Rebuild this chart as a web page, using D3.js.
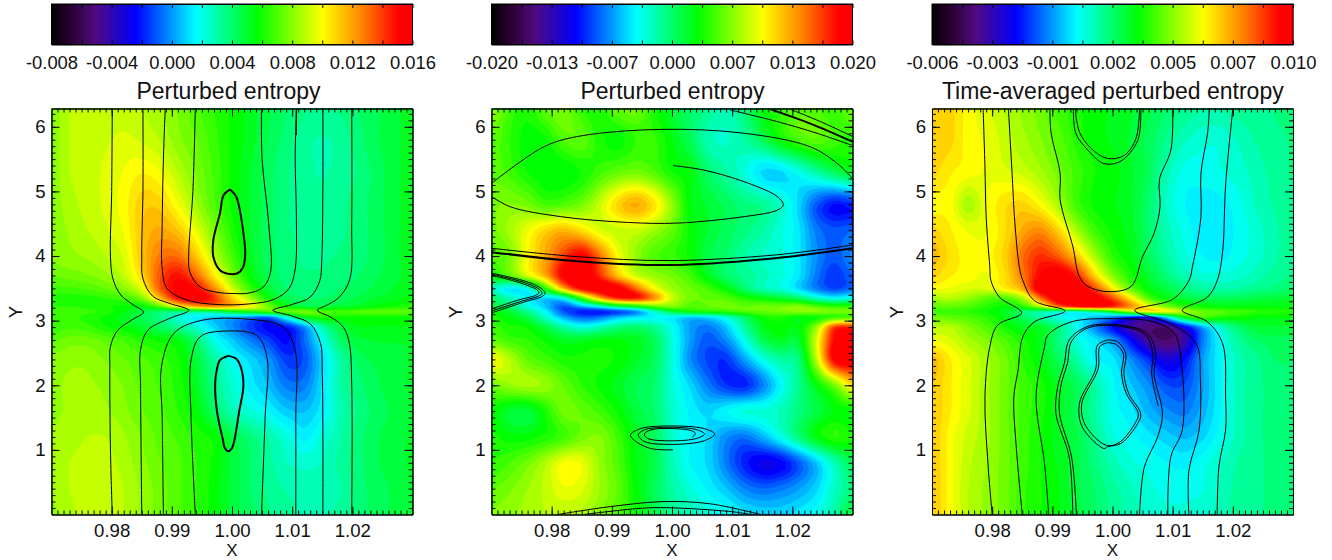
<!DOCTYPE html>
<html>
<head>
<meta charset="utf-8">
<script src="https://d3js.org/d3.v7.min.js"></script>
<style>
  body { margin: 0; background: #fff; }
  text { font-family: "Liberation Sans", Arial, sans-serif; fill: #111; }
</style>
</head>
<body>
<svg id="chart" width="1332" height="560"></svg>
<script>
// grid columns and rows of all three maps
const xCols = [0.970,0.973,0.976,0.979,0.982,0.985,0.988,0.991,0.994,0.997,1.000,1.003,1.006,1.009,1.012,1.015,1.018,1.021,1.024,1.027,1.030];
const yRows = [6.28,5.8,5.3,4.8,4.4,4.0,3.7,3.5,3.35,3.22,3.14,3.05,2.9,2.7,2.4,2.0,1.6,1.2,0.8,0.4,0.0];

// perturbed entropy, in units of 1e-4, one line per y row
const entropyA = [
[80,88,90,90,90,88,84,78,70,64,58,52,46,40,36,34,36,40,44,48,52],
[80,88,90,92,94,92,88,80,74,66,58,52,44,38,32,30,32,38,44,48,52],
[80,88,90,94,98,102,98,88,78,68,58,50,42,36,32,30,32,36,42,48,52],
[80,86,90,94,100,110,110,98,84,70,58,50,42,36,32,32,34,38,42,48,52],
[80,84,88,92,98,112,118,112,96,78,62,50,42,36,34,32,34,38,42,48,52],
[80,82,84,88,94,112,128,130,112,88,68,52,42,38,34,34,36,38,42,48,52],
[74,76,78,82,90,108,135,148,132,104,78,56,44,38,36,36,38,40,44,48,52],
[68,68,70,74,80,96,134,154,150,124,92,66,48,40,38,38,40,42,46,50,54],
[62,62,62,64,68,78,114,150,158,142,110,84,58,44,40,40,42,46,50,52,56],
[64,64,62,60,58,56,72,100,118,125,115,100,76,56,46,46,48,52,56,60,62],
[68,68,66,62,56,46,40,36,36,40,52,60,68,72,76,70,68,70,72,72,70],
[66,66,62,58,52,44,36,24,14,8,4,-4,-10,20,50,60,58,58,58,58,58],
[66,68,66,60,56,50,42,34,24,10,-2,-15,-24,-22,-2,30,46,54,54,54,54],
[72,76,76,72,68,62,58,55,40,20,8,-4,-14,-24,-8,18,40,48,50,50,50],
[80,82,82,78,74,70,66,60,48,32,18,10,0,-15,-12,10,30,42,46,48,50],
[82,84,84,82,78,72,68,62,52,36,24,14,6,-5,-5,12,30,38,44,48,50],
[82,84,86,84,80,74,70,64,56,42,28,22,16,8,6,14,28,36,42,46,50],
[84,86,88,88,84,78,72,68,62,58,46,38,30,22,14,22,30,38,44,48,50],
[84,88,90,90,86,80,74,70,64,58,48,40,32,26,24,26,32,38,44,48,50],
[84,88,92,92,88,82,76,70,64,57,48,40,34,30,28,28,30,38,42,46,50],
[82,86,92,92,88,82,76,70,64,57,48,42,36,32,30,30,32,38,42,46,50]];

const entropyB = [
[70,45,35,55,65,40,35,55,60,35,15,0,-10,-20,-5,25,40,55,50,40,60],
[55,40,28,30,50,55,35,28,40,42,25,5,-20,-25,-15,5,30,48,55,45,35],
[55,45,32,25,25,32,45,55,60,50,32,25,0,-15,-30,-50,-50,-35,-15,5,20],
[62,65,60,45,50,60,85,115,130,110,70,25,15,5,-5,-10,-25,-50,-85,-105,-100],
[60,75,95,115,125,110,90,85,85,72,55,30,15,5,-5,-15,-30,-45,-75,-85,-80],
[50,60,100,130,165,190,150,100,70,50,42,30,10,0,-15,-25,-30,-45,-70,-85,-70],
[30,55,90,130,190,200,170,120,85,70,60,45,20,0,-10,-20,-30,-45,-75,-95,-80],
[-20,-45,-30,40,130,190,200,195,150,100,72,58,45,25,0,-20,-30,-50,-75,-90,-80],
[0,-20,-40,-50,-30,50,130,175,180,140,85,60,55,50,35,25,15,0,-25,-40,-30],
[15,-5,-30,-55,-85,-60,-30,5,25,55,65,50,55,60,55,60,60,65,50,40,40],
[30,15,-10,-40,-85,-100,-100,-90,-70,-25,10,30,35,40,50,55,60,65,65,60,60],
[35,25,10,-25,-60,-80,-75,-55,-45,-40,-42,-55,-50,-30,0,30,35,25,30,45,50],
[45,35,30,10,-15,-30,-20,-5,0,-10,-35,-65,-75,-55,-15,20,30,25,70,165,175],
[55,45,40,30,20,20,25,25,20,5,-30,-65,-85,-70,-35,5,20,15,90,185,195],
[100,80,55,45,35,35,35,30,18,5,-30,-70,-90,-95,-65,-35,-15,-5,80,190,200],
[60,70,75,70,55,40,30,20,8,0,-30,-50,-75,-95,-100,-75,-40,-10,25,60,110],
[30,15,12,35,60,55,45,30,12,0,-25,-42,-50,-40,-30,-30,-22,-5,10,25,25],
[35,28,28,35,45,60,65,45,22,5,-25,-40,-50,-70,-78,-60,-35,-5,25,40,35],
[40,48,60,78,98,95,70,50,25,10,-20,-40,-50,-75,-100,-115,-110,-85,-55,-20,5],
[55,62,72,82,95,90,72,55,28,5,-15,-30,-42,-55,-72,-80,-75,-65,-50,-25,-5],
[65,70,75,80,80,78,65,50,30,10,-10,-20,-30,-35,-45,-50,-50,-45,-35,-15,15]];

const entropyC = [
[68,66,60,56,52,48,44,38,34,31,29,27,24,20,16,14,14,15,16,17,18],
[68,66,60,58,54,50,46,41,35,31,29,26,22,16,11,8,8,11,14,16,17],
[66,62,60,58,56,54,50,44,38,33,31,27,22,12,6,6,7,9,12,15,17],
[60,60,50,58,64,66,60,50,38,32,30,27,20,10,4,2,3,6,11,14,16],
[66,62,58,58,64,72,76,66,50,38,32,28,20,12,6,2,2,5,9,13,16],
[70,64,60,60,66,80,88,82,68,50,36,30,22,14,8,4,3,6,9,13,16],
[66,62,60,58,64,78,94,100,90,66,46,34,26,18,12,8,8,9,12,15,17],
[60,58,56,56,62,72,100,100,100,85,62,42,30,24,18,14,13,14,16,18,20],
[50,52,48,42,40,50,80,100,100,98,84,62,40,30,25,22,22,22,24,25,26],
[42,42,40,36,32,36,52,80,92,96,90,76,58,44,36,32,30,30,30,30,30],
[38,38,36,33,28,20,15,10,10,16,30,50,60,58,50,42,40,38,36,35,34],
[44,42,40,36,30,22,14,8,4,-2,-10,-22,-25,0,28,38,33,32,30,30,29],
[52,52,46,40,34,28,28,18,6,-8,-22,-35,-42,-42,-25,-5,10,20,26,26,26],
[58,56,50,46,40,34,28,18,8,2,-6,-22,-38,-44,-35,-10,5,15,20,22,22],
[70,62,56,50,44,36,30,22,14,4,2,-8,-18,-28,-22,-6,4,12,16,20,20],
[68,62,56,50,44,38,34,28,22,14,5,-2,-8,-15,-15,-6,4,12,16,18,20],
[68,62,56,50,44,38,34,28,22,14,6,2,-4,-8,-10,-4,4,12,16,18,20],
[68,60,54,50,44,38,33,28,24,16,8,5,2,-1,-3,0,6,12,16,18,20],
[68,60,53,49,44,38,33,29,24,18,12,8,6,4,3,6,10,14,16,18,18],
[68,60,52,48,44,37,33,30,24,20,15,11,8,6,6,7,11,15,16,18,18],
[68,60,52,48,44,37,33,30,25,20,16,12,9,8,8,9,12,15,16,18,18]];

// field lines, [x, y]
const linesA = [
[[.9801,6.28],[.98,5],[.9798,4],[.9802,3.65],[.9815,3.4],[.9835,3.25],[.9853,3.13],[.9835,3.02],[.981,2.85],[.9798,2.6],[.9797,2.3],[.9798,1],[.9801,0]],
[[.9852,6.28],[.9852,5],[.985,4],[.9852,3.65],[.9868,3.38],[.9895,3.27],[.9928,3.16],[.9895,3.03],[.986,2.85],[.9848,2.55],[.9848,2],[.985,0]],
[[.9889,6.28],[.9886,5.5],[.9884,4.5],[.9884,3.8],[.9892,3.5],[.9925,3.32],[.9975,3.25],[1.003,3.26],[1.007,3.33],[1.0095,3.5],[1.0105,3.8],[1.0107,4.6],[1.0105,5.5],[1.0107,6.28]],
[[.9939,6.28],[.9935,5],[.9928,4],[.993,3.75],[.9947,3.52],[.9975,3.44],[1,3.42],[1.003,3.43],[1.0052,3.52],[1.0064,3.75],[1.0061,4.5],[1.005,5.5],[1.0049,6.28]],
[[1.0151,6.28],[1.0151,5],[1.0149,3.9],[1.0146,3.62],[1.013,3.365],[1.01,3.25],[1.0068,3.16],[1.01,3.07],[1.013,2.95],[1.0147,2.65],[1.015,2.2],[1.0151,0]],
[[1.0199,6.28],[1.0199,4.5],[1.0196,3.65],[1.0179,3.37],[1.016,3.25],[1.0142,3.16],[1.0165,3.05],[1.0185,2.9],[1.0195,2.65],[1.0199,2],[1.0199,0]],
[[.9886,0],[.9884,1.5],[.9883,2.3],[.9903,2.8],[.9947,3],[1.003,3.02],[1.0085,2.9],[1.0105,2.54],[1.0106,1.5],[1.0106,0]],
[[.9939,0],[.9932,1.5],[.9932,2.39],[.9947,2.75],[.9991,2.84],[1.0041,2.77],[1.0058,2.44],[1.0055,1.5],[1.0049,0]],
[[1.0107,6.28],[1.0107,5.87]]
];
const heavyA = [
[[.9997,5.03],[.9986,4.94],[.998,4.66],[.9969,4.25],[.9969,3.99],[.998,3.78],[.9991,3.73],[1.0008,3.73],[1.0018,3.82],[1.0022,4.04],[1.0019,4.35],[1.0014,4.66],[1.0007,4.92],[.9997,5.03]],
[[.9994,2.455],[.998,2.39],[.9975,2.25],[.9972,2.03],[.9975,1.6],[.9985,1.15],[.9988,1.03],[.9994,.98],[1,1.03],[1.0004,1.15],[1.0012,1.6],[1.0019,2],[1.0014,2.3],[1.0007,2.41],[.9994,2.455]]
];

const linesB = [
[[.97,5.125],[.9787,5.69],[.9843,5.85],[.9981,5.96],[1.012,5.9],[1.023,5.69],[1.0275,5.43],[1.03,5.2]],
[[.97,4.92],[.9732,4.76],[.9815,4.61],[.9926,4.52],[1.0009,4.51],[1.012,4.61],[1.0175,4.71],[1.0185,4.79],[1.0175,4.92],[1.012,5.15],[1.0053,5.33],[1.0002,5.4]],
[[.97,4.12],[.9843,3.99],[.9998,3.93],[1.0175,4.02],[1.03,4.17]],
[[1.0097,6.26],[1.0175,6.08],[1.0241,5.9],[1.03,5.71]],
[[1.0197,6.27],[1.0247,6.08],[1.03,5.85]],
[[.97,3.735],[.9745,3.64],[.9771,3.56],[.9785,3.48],[.9789,3.42],[.9783,3.37],[.9755,3.29],[.97,3.12]],
[[.97,3.72],[.974,3.63],[.9766,3.55],[.978,3.48],[.9784,3.42],[.9778,3.38],[.975,3.3],[.97,3.15]],
[[.97,3.7],[.9735,3.62],[.9761,3.54],[.9775,3.48],[.9779,3.43],[.9773,3.39],[.9745,3.32],[.97,3.18]],
[[1.0002,1],[.9965,1.02],[.994,1.13],[.9931,1.23],[.9948,1.33],[.9998,1.37],[1.0053,1.33],[1.0071,1.245],[1.0053,1.14],[.9998,1.085],[.9954,1.13],[.9944,1.23],[.9954,1.31],[.9998,1.35],[1.0042,1.31],[1.0054,1.245],[1.0042,1.18],[.9998,1.14],[.9959,1.18],[.9954,1.245],[.9965,1.31],[.9998,1.33],[1.0031,1.3],[1.0039,1.255],[1.0034,1.2]],
[[.981,0],[.9898,.123],[.9987,.2],[1.0064,.165],[1.0147,0]],
[[.9854,0],[.9954,.1],[1.0009,.1],[1.0103,.04],[1.013,0]]
];
const heavyB = [
[[.97,4.06],[.9843,3.92],[.9998,3.86],[1.0175,3.97],[1.03,4.12]],
[[1.0164,6.27],[1.023,6.05],[1.03,5.77]]
];

const linesC = [
[[.9785,6.28],[.9788,5.38],[.979,4.61],[.9796,3.84],[.9798,3.62],[.9812,3.365],[.9849,3.12],[.9809,2.93],[.9796,2.59],[.9788,1.82],[.9793,.79],[.98,0]],
[[.9827,6.28],[.9834,5.125],[.9837,4.61],[.9845,3.84],[.9851,3.62],[.987,3.31],[.9921,3.15],[.987,2.98],[.9851,2.75],[.9843,2.23],[.9836,1.82],[.984,1.05],[.985,0]],
[[.9896,6.28],[.9898,5.9],[.9913,5.28],[.9913,4.87],[.9934,4.15],[.9945,3.68],[.9959,3.53],[.9992,3.45],[1.0031,3.53],[1.005,3.99],[1.0069,4.35],[1.0079,4.76],[1.0078,5.18],[1.0097,5.64],[1.01,6.28]],
[[.9894,0],[.9887,.79],[.9873,1.82],[.9887,2.59],[.9892,2.77],[.9931,2.98],[1.0003,3.03],[1.0069,2.98],[1.0103,2.8],[1.0114,2.39],[1.0116,1.31],[1.0097,.895],[1.0092,0]],
[[.9934,0],[.9928,.89],[.9906,1.56],[.9909,1.98],[.992,2.34],[.9928,2.7],[.9959,2.91],[1.0014,2.93],[1.0058,2.8],[1.0072,2.49],[1.0069,2.18],[1.0083,1.56],[1.0075,1.2],[1.0053,.736],[1.0045,0]],
[[.994,0],[.9932,.89],[.9912,1.56],[.9914,1.98],[.9925,2.34],[.9932,2.68],[.996,2.89],[1.0014,2.91],[1.0055,2.78],[1.0067,2.49],[1.0065,2.18],[1.0076,1.68]],
[[.9992,2.7],[.9975,2.62],[.9972,2.25],[.9945,1.72],[.995,1.35],[.9986,1.02],[.9992,1.05],[1.0014,1.1],[1.0042,1.41],[1.0047,1.56],[1.0027,1.87],[1.0019,2.18],[1.0022,2.49],[1.0009,2.67],[.9992,2.7]],
[[.9992,2.66],[.9979,2.6],[.9976,2.25],[.9949,1.72],[.9955,1.38],[.999,1.07],[1.0012,1.12],[1.0038,1.42],[1.0043,1.56],[1.0023,1.87],[1.0015,2.18],[1.0018,2.49],[1.0006,2.63],[.9992,2.66]],
[[.9935,6.28],[.9939,5.9],[.9959,5.64],[.9986,5.43],[1.0014,5.47],[1.0042,5.79],[1.0047,6.28]],
[[.9938,6.28],[.9945,5.92],[.9964,5.67],[.9992,5.51],[1.002,5.56],[1.0039,5.82],[1.0045,6.28]],
[[1.0161,6.28],[1.0158,5.9],[1.0147,5.28],[1.0147,4.61],[1.0133,3.84],[1.0127,3.62],[1.01,3.33],[1.0037,3.16],[1.0097,2.95],[1.0139,2.645],[1.0146,2.08],[1.0144,1.31],[1.0127,.68],[1.0127,0]],
[[1.02,6.28],[1.0188,5.1],[1.0183,4.07],[1.0174,3.62],[1.0158,3.365],[1.0116,3.16],[1.0158,2.98],[1.0183,2.645],[1.0188,1.82],[1.0188,1.31],[1.0177,.75],[1.0174,0]]
];
const heavyC = [];

const titles = ["Perturbed entropy", "Perturbed entropy", "Time-averaged perturbed entropy"];
const barLabels = [
  ["-0.008","-0.004","0.000","0.004","0.008","0.012","0.016"],
  ["-0.020","-0.013","-0.007","0.000","0.007","0.013","0.020"],
  ["-0.006","-0.003","-0.001","0.002","0.005","0.007","0.010"]
];
const ranges = [[-80,160],[-200,200],[-60,100]];
const xTicks = [0.98,0.99,1.00,1.01,1.02];
const yTicks = [1,2,3,4,5,6];

// rainbow + black colour table
const colorStops = [0,0.05,0.12,0.232,0.316,0.40,0.57,0.75,0.855,0.96,1];
const colorValues = ["#000000","#2a0030","#500a80","#0000ff","#0080ff","#00ffff","#00ff00","#ffff00","#ff8800","#ff0000","#ff0000"];
const rainbow = d3.scaleLinear().domain(colorStops).range(colorValues).interpolate(d3.interpolateRgb);

const panelLeft = [51.5, 491.5, 932];
const titleX = [228.5, 672.5, 1112.8];
const plotW = 361, plotTop = 108.5, plotH = 406;
const fields = [entropyA, entropyB, entropyC];
const thinLines = [linesA, linesB, linesC];
const thickLines = [heavyA, heavyB, heavyC];
const nLevels = 50;
const sub = 4; // drawing cells per grid cell

const svg = d3.select("#chart");

// smooth the drawn surface between the grid values (catmull-rom)
function cubic(a, b, c, d, t) {
  return b + 0.5 * t * (c - a + t * (2 * a - 5 * b + 4 * c - d + t * (3 * (b - c) + d - a)));
}
function refine(grid) {
  const rows = grid.length, cols = grid[0].length;
  const outRows = (rows - 1) * sub + 1, outCols = (cols - 1) * sub + 1;
  const out = [];
  for (let j = 0; j < outRows; j++) {
    const r = Math.min(Math.floor(j / sub), rows - 2), v = j / sub - r;
    for (let i = 0; i < outCols; i++) {
      const c = Math.min(Math.floor(i / sub), cols - 2), u = i / sub - c;
      const across = [-1, 0, 1, 2].map(k => {
        const row = grid[Math.max(0, Math.min(rows - 1, r + k))];
        return cubic(row[Math.max(0, c - 1)], row[c], row[c + 1], row[Math.min(cols - 1, c + 2)], u);
      });
      out.push(cubic(across[0], across[1], across[2], across[3], v));
    }
  }
  return { values: out, cols: outCols, rows: outRows };
}

function drawPanel(p) {
  const left = panelLeft[p];
  const x = d3.scaleLinear().domain([0.97, 1.03]).range([left, left + plotW]);
  const y = d3.scaleLinear().domain([0, 2 * Math.PI]).range([plotTop + plotH, plotTop]);
  const [lo, hi] = ranges[p];

  // colour bar
  const bar = svg.append("g");
  const barX = d3.scaleLinear().domain([0, 12]).range([left, left + plotW]);
  bar.selectAll("rect").data(d3.range(0, plotW)).enter().append("rect")
    .attr("x", d => left + d)
    .attr("y", 4).attr("height", 40.5)
    .attr("width", 1.5)
    .attr("fill", d => rainbow(d / plotW));
  bar.append("rect").attr("x", left).attr("y", 4).attr("width", plotW).attr("height", 40.5)
    .attr("fill", "none").attr("stroke", "#000");
  bar.append("g").attr("transform", "translate(0,44.5)")
    .call(d3.axisBottom(barX).tickValues(d3.range(0, 13)).tickSizeInner(-4).tickSizeOuter(0).tickFormat(""));
  bar.append("g").attr("transform", "translate(0,4)")
    .call(d3.axisTop(barX).tickValues(d3.range(0, 13)).tickSizeInner(-4).tickSizeOuter(0).tickFormat(""));
  const barText = bar.append("g").attr("transform", "translate(0,44.5)")
    .call(d3.axisBottom(barX).tickValues(d3.range(0, 13, 2)).tickSize(0).tickPadding(11)
      .tickFormat(d => barLabels[p][d / 2]));
  barText.select(".domain").remove();
  barText.selectAll("text").style("font-size", "18.4px").attr("fill", "#111");

  // filled contours
  const surface = refine(fields[p]);
  const step = (hi - lo) / nLevels;
  const levels = d3.range(nLevels).map(i => lo + i * step);
  levels[0] = -1e6;
  const colX = d3.scaleLinear().domain(xCols.map((d, i) => i * sub + 0.5)).range(xCols.map(d => x(d))).clamp(true);
  const rowY = d3.scaleLinear().domain(yRows.map((d, i) => i * sub + 0.5)).range(yRows.map((d, i) => i == 0 ? plotTop : y(d))).clamp(true);
  const project = d3.geoTransform({
    point: function (a, b) { this.stream.point(colX(a), rowY(b)); }
  });
  const path = d3.geoPath(project);
  const bands = d3.contours().size([surface.cols, surface.rows]).thresholds(levels)(surface.values);

  const clipId = "clip" + p;
  svg.append("clipPath").attr("id", clipId).append("rect")
    .attr("x", left).attr("y", plotTop).attr("width", plotW).attr("height", plotH);

  const map = svg.append("g").attr("clip-path", "url(#" + clipId + ")");
  map.selectAll("path").data(bands).enter().append("path")
    .attr("d", path)
    .attr("fill", (d, i) => rainbow((i + 0.5) / nLevels));

  // field lines
  const line = d3.line().x(d => x(d[0])).y(d => y(d[1])).curve(d3.curveCatmullRom.alpha(0.5));
  map.selectAll("path.thin").data(thinLines[p]).enter().append("path")
    .attr("class", "thin").attr("d", line)
    .attr("fill", "none").attr("stroke", "#000").attr("stroke-width", 1);
  map.selectAll("path.thick").data(thickLines[p]).enter().append("path")
    .attr("class", "thick").attr("d", line)
    .attr("fill", "none").attr("stroke", "#000").attr("stroke-width", 2);

  // axes, ticks point inward on all four sides
  const minorX = d3.range(0.971, 1.0295, 0.001).map(d => +d.toFixed(3));
  const minorY = d3.range(0.1, 6.25, 0.1).map(d => +d.toFixed(1));
  const axes = svg.append("g");
  const bottom = axes.append("g").attr("transform", "translate(0," + (plotTop + plotH) + ")");
  bottom.call(d3.axisBottom(x).tickValues(xTicks).tickSizeInner(-8).tickSizeOuter(0).tickPadding(9).tickFormat(d3.format(".2f")));
  bottom.selectAll("text").style("font-size", "18.6px").attr("fill", "#111");
  axes.append("g").attr("transform", "translate(0," + (plotTop + plotH) + ")")
    .call(d3.axisBottom(x).tickValues(minorX).tickSizeInner(-4).tickSizeOuter(0).tickFormat(""));
  axes.append("g").attr("transform", "translate(0," + plotTop + ")")
    .call(d3.axisTop(x).tickValues(xTicks).tickSizeInner(-8).tickSizeOuter(0).tickFormat(""));
  axes.append("g").attr("transform", "translate(0," + plotTop + ")")
    .call(d3.axisTop(x).tickValues(minorX).tickSizeInner(-4).tickSizeOuter(0).tickFormat(""));
  const leftAxis = axes.append("g").attr("transform", "translate(" + left + ",0)");
  leftAxis.call(d3.axisLeft(y).tickValues(yTicks).tickSizeInner(-8).tickSizeOuter(0).tickPadding(6).tickFormat(d3.format("d")));
  leftAxis.selectAll("text").style("font-size", "18.6px").attr("fill", "#111");
  axes.append("g").attr("transform", "translate(" + left + ",0)")
    .call(d3.axisLeft(y).tickValues(minorY).tickSizeInner(-4).tickSizeOuter(0).tickFormat(""));
  axes.append("g").attr("transform", "translate(" + (left + plotW) + ",0)")
    .call(d3.axisRight(y).tickValues(yTicks).tickSizeInner(-8).tickSizeOuter(0).tickFormat(""));
  axes.append("g").attr("transform", "translate(" + (left + plotW) + ",0)")
    .call(d3.axisRight(y).tickValues(minorY).tickSizeInner(-4).tickSizeOuter(0).tickFormat(""));

  svg.append("text").attr("x", titleX[p]).attr("y", 98.5)
    .attr("text-anchor", "middle").style("font-size", "23px").text(titles[p]);
  svg.append("text").attr("x", left + plotW / 2).attr("y", 556.2)
    .attr("text-anchor", "middle").style("font-size", "17px").text("X");
  svg.append("text").attr("transform", "translate(" + (left - 29.5) + ",312) rotate(-90)")
    .attr("text-anchor", "middle").style("font-size", "18.6px").text("Y");
}

d3.range(3).forEach(drawPanel);
</script>
</body>
</html>
